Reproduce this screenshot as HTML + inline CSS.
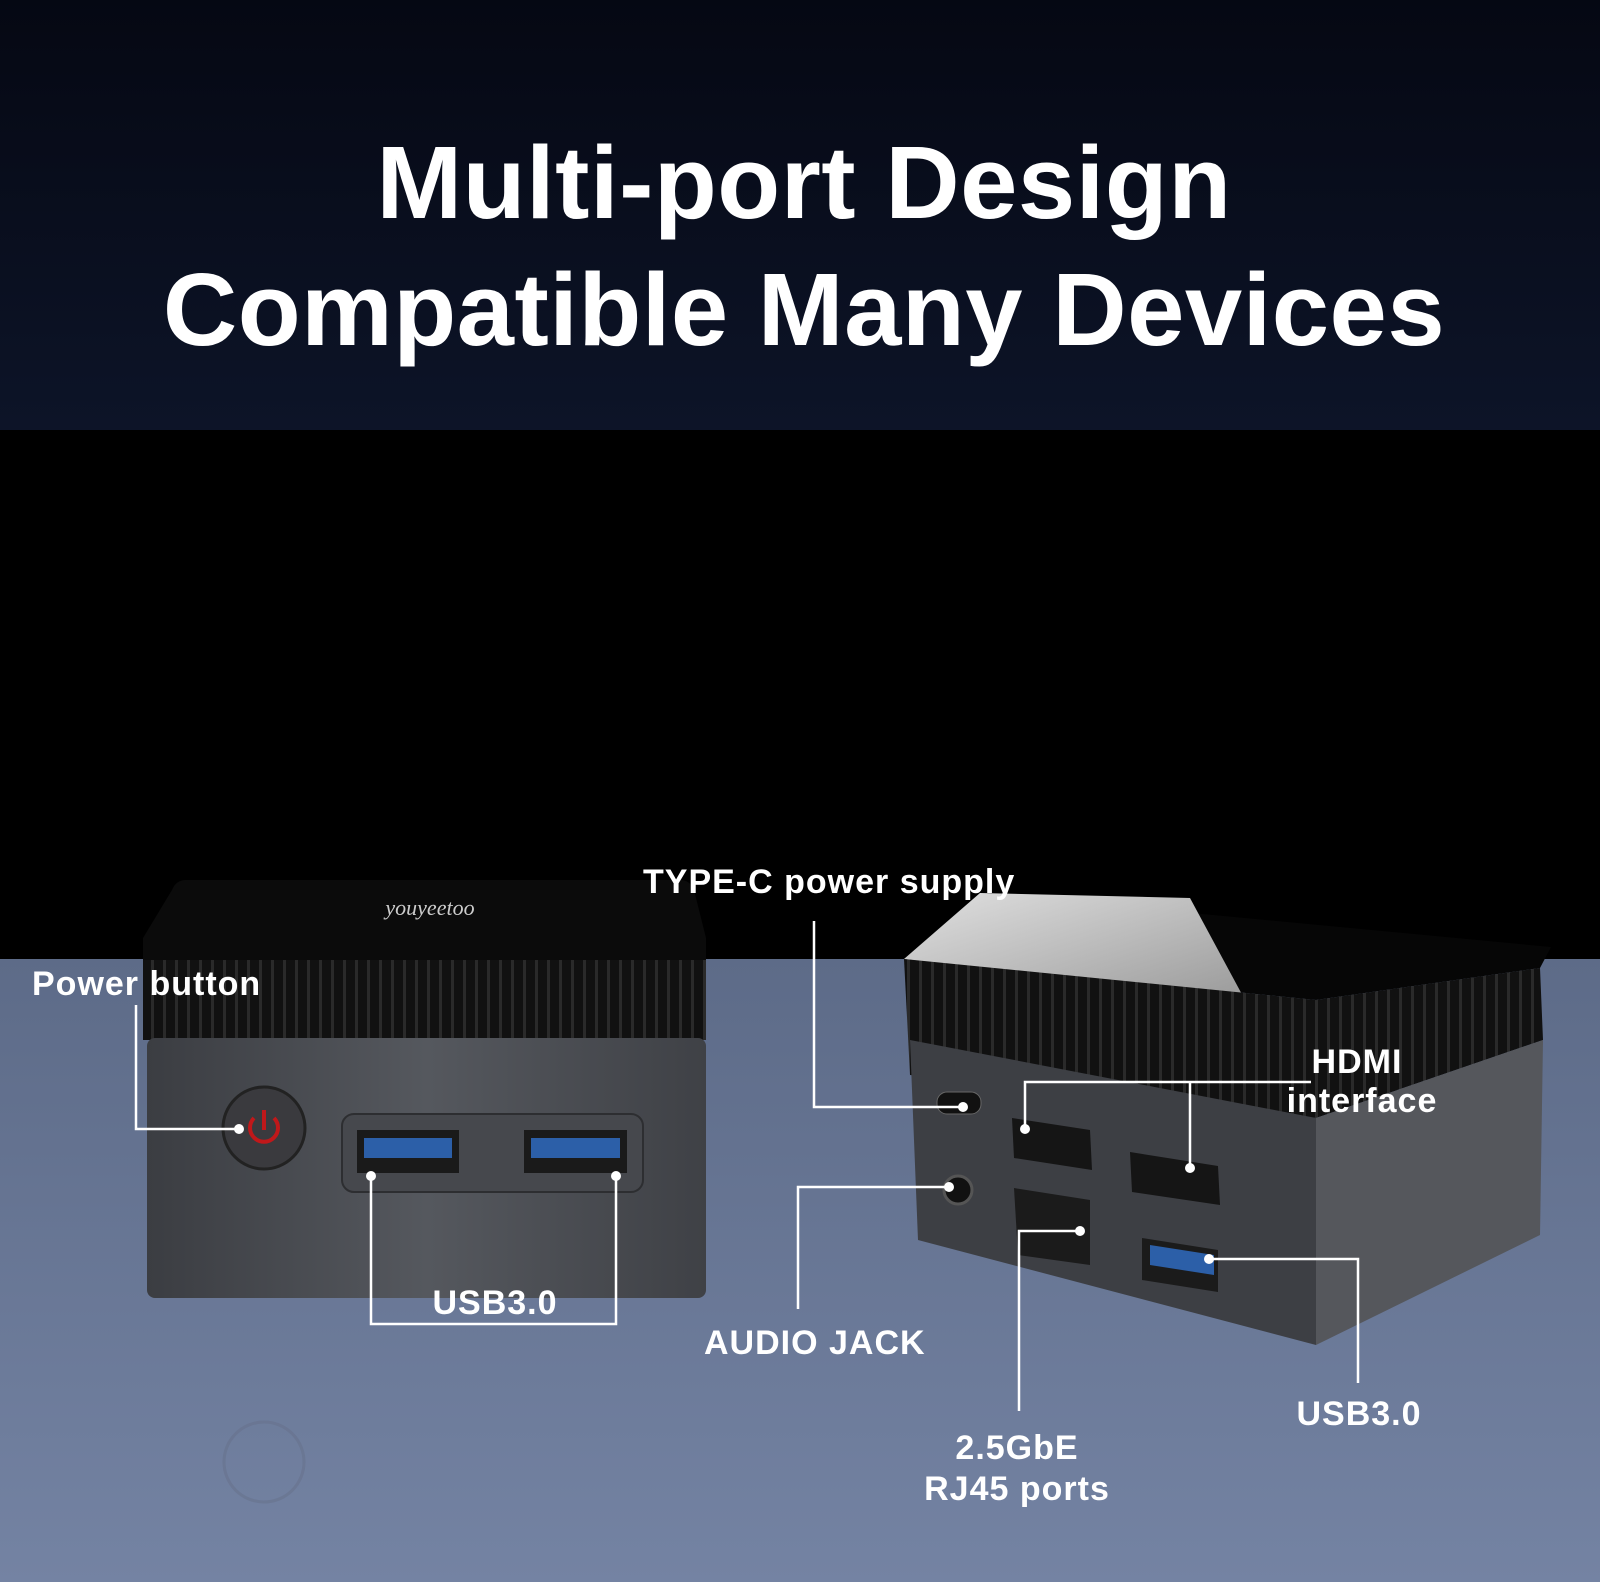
<!DOCTYPE html>
<html><head><meta charset="utf-8"><style>
html,body{margin:0;padding:0;background:#000}
svg{display:block}
.t{font-family:"Liberation Sans",sans-serif;font-weight:bold;fill:#fff}
.l{font-family:"Liberation Sans","Noto Sans CJK SC",sans-serif;font-weight:bold;fill:#fff;font-size:34px;letter-spacing:1px}
.ln{stroke:#fff;stroke-width:2.5;fill:none}
</style></head><body>
<svg width="1600" height="1582" viewBox="0 0 1600 1582" xmlns="http://www.w3.org/2000/svg">
<defs>
<linearGradient id="top" x1="0" y1="0" x2="0" y2="1"><stop offset="0" stop-color="#050813"/><stop offset="1" stop-color="#0d1428"/></linearGradient>
<linearGradient id="floor" x1="0" y1="0" x2="0" y2="1"><stop offset="0" stop-color="#5d6b88"/><stop offset="1" stop-color="#7483a3"/></linearGradient>
<pattern id="fins" width="12" height="20" patternUnits="userSpaceOnUse"><rect width="12" height="20" fill="#111"/><rect x="7" width="3" height="20" fill="#2a2a2a"/></pattern>
<linearGradient id="body" x1="0" y1="0" x2="1" y2="0"><stop offset="0" stop-color="#3b3d42"/><stop offset="0.5" stop-color="#55585e"/><stop offset="1" stop-color="#3f4146"/></linearGradient>
<linearGradient id="refl" x1="0" y1="0" x2="1" y2="1"><stop offset="0" stop-color="#e0e0e0"/><stop offset="1" stop-color="#9a9a9a"/></linearGradient>
</defs>
<rect width="1600" height="430" fill="url(#top)"/>
<rect y="430" width="1600" height="530" fill="#000"/>
<rect y="959" width="1600" height="623" fill="url(#floor)"/>
<text class="t" x="804" y="218" font-size="103" text-anchor="middle" letter-spacing="0.5">Multi-port Design</text>
<text class="t" x="804" y="345" font-size="103" text-anchor="middle" letter-spacing="0.5">Compatible Many Devices</text>

<!-- left device -->
<path d="M186 880 L680 880 Q690 880 694 890 L706 938 L706 972 L143 972 L143 938 L172 890 Q176 880 186 880 Z" fill="#0b0b0b"/>
<rect x="143" y="960" width="563" height="80" fill="url(#fins)"/>
<rect x="147" y="1038" width="559" height="260" rx="8" fill="url(#body)"/>
<text x="430" y="915" font-size="22" fill="#ccc" font-family="Liberation Serif" font-style="italic" text-anchor="middle">youyeetoo</text>
<circle cx="264" cy="1128" r="41" fill="#3a3a3e" stroke="#222" stroke-width="3"/>
<path d="M254 1118 A14 14 0 1 0 274 1118 M264 1110 L264 1130" stroke="#c0181a" stroke-width="4" fill="none"/>
<rect x="342" y="1114" width="301" height="78" rx="12" fill="#46484d" stroke="#2d2e31" stroke-width="2"/>
<rect x="357" y="1130" width="102" height="43" fill="#1a1a1a"/><rect x="364" y="1138" width="88" height="20" fill="#2c5fa8"/>
<rect x="524" y="1130" width="103" height="43" fill="#1a1a1a"/><rect x="531" y="1138" width="89" height="20" fill="#2c5fa8"/>
<circle cx="264" cy="1462" r="40" fill="none" stroke="#66708a" stroke-width="3" opacity="0.5"/>

<!-- right device -->
<path d="M904 959 L980 893 L1551 947 L1540 968 L1316 1000 Z" fill="#060606"/>
<path d="M904 959 L980 893 L1190 898 L1245 1000 Z" fill="url(#refl)"/>
<path d="M904 959 L1316 1000 L1316 1118 L910 1075 Z" fill="url(#fins)"/>
<path d="M1316 1000 L1540 968 L1543 1040 L1316 1118 Z" fill="url(#fins)"/>
<path d="M910 1040 L1316 1118 L1316 1345 L918 1240 Z" fill="#3d3f44"/>
<path d="M1316 1118 L1543 1040 L1540 1235 L1316 1345 Z" fill="#55575c"/>
<rect x="937" y="1092" width="44" height="22" rx="10" fill="#111" stroke="#666"/>
<circle cx="958" cy="1190" r="14" fill="#111" stroke="#555" stroke-width="3"/>
<path d="M1012 1118 L1090 1130 L1092 1170 L1014 1158 Z" fill="#151515"/>
<path d="M1130 1152 L1218 1166 L1220 1205 L1132 1192 Z" fill="#151515"/>
<path d="M1014 1188 L1090 1200 L1090 1265 L1018 1255 Z" fill="#1b1b1b"/>
<path d="M1142 1238 L1218 1250 L1218 1292 L1142 1280 Z" fill="#1b1b1b"/>
<path d="M1150 1245 L1214 1255 L1214 1275 L1150 1265 Z" fill="#2c5fa8"/>

<!-- connectors -->
<g class="ln">
<path d="M136 1005 L136 1129 L239 1129"/>
<path d="M371 1176 L371 1324 L616 1324 L616 1176"/>
<path d="M814 921 L814 1107 L963 1107"/>
<path d="M1311 1082 L1025 1082 L1025 1129 M1190 1082 L1190 1168"/>
<path d="M949 1187 L798 1187 L798 1309"/>
<path d="M1080 1231 L1019 1231 L1019 1411"/>
<path d="M1209 1259 L1358 1259 L1358 1383"/>
</g>
<g fill="#fff">
<circle cx="239" cy="1129" r="5"/><circle cx="371" cy="1176" r="5"/><circle cx="616" cy="1176" r="5"/>
<circle cx="963" cy="1107" r="5"/><circle cx="1025" cy="1129" r="5"/><circle cx="1190" cy="1168" r="5"/>
<circle cx="949" cy="1187" r="5"/><circle cx="1080" cy="1231" r="5"/><circle cx="1209" cy="1259" r="5"/>
</g>
<text class="l" x="32" y="995">Power button</text>
<text class="l" x="495" y="1314" text-anchor="middle">USB3.0</text>
<text class="l" x="643" y="893">TYPE-C power supply</text>
<text class="l" x="1357" y="1073" text-anchor="middle">HDMI</text>
<text class="l" x="1362" y="1112" text-anchor="middle">interface</text>
<text class="l" x="704" y="1354">AUDIO JACK</text>
<text class="l" x="1017" y="1459" text-anchor="middle">2.5GbE</text>
<text class="l" x="1017" y="1500" text-anchor="middle">RJ45 ports</text>
<text class="l" x="1359" y="1425" text-anchor="middle">USB3.0</text>
</svg>
</body></html>
